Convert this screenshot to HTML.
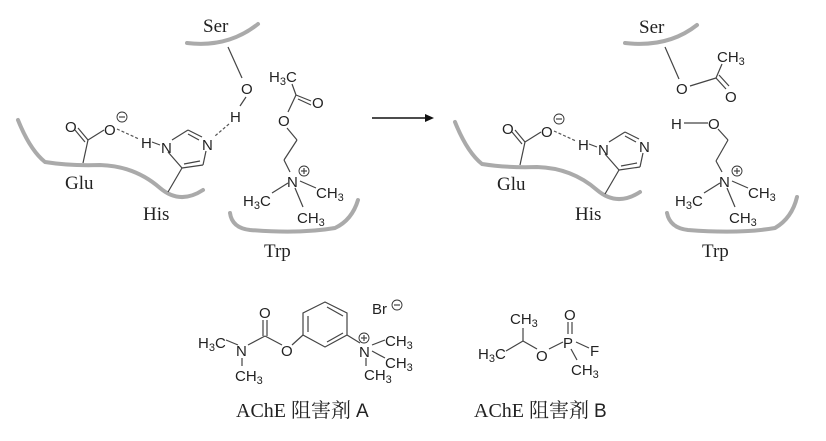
<!DOCTYPE html>
<html><head><meta charset="utf-8"><style>
body{margin:0;background:#fff}
svg{display:block}
.a{font-family:"Liberation Sans",sans-serif;font-size:15px;fill:#222}
.s{font-family:"Liberation Serif",serif;font-size:19px;fill:#222}
.j{font-family:"Liberation Serif","Noto Serif CJK SC",serif;font-size:20px;fill:#222}
.b{stroke:#444;stroke-width:1.2;fill:none}
.p{stroke:#aaa;stroke-width:4;fill:none;stroke-linecap:round}
.d{stroke:#555;stroke-width:1.2;stroke-dasharray:3,2;fill:none}
.c{fill:#fff;stroke:#333;stroke-width:0.9}
</style></head><body>
<svg width="826" height="441" viewBox="0 0 826 441" xmlns="http://www.w3.org/2000/svg">
<!-- LEFT PANEL -->
<text class="s" x="203" y="32">Ser</text>
<path class="p" d="M187,43 Q228,48 258,24"/>
<line class="b" x1="228" y1="47" x2="242" y2="78"/>
<text class="a" x="241" y="94">O</text>
<line class="b" x1="246" y1="97" x2="240" y2="106"/>
<text class="a" x="230" y="122">H</text>
<line class="d" x1="229" y1="124" x2="215" y2="136"/>
<path class="p" d="M18,120 Q30,150 45,162 Q70,166 100,165 Q135,166 160,188 Q180,205 203,190"/>
<g>
<line class="b" x1="83" y1="163" x2="88" y2="140"/>
<line class="b" x1="88" y1="140" x2="78" y2="128"/>
<line class="b" x1="85" y1="142" x2="75" y2="130"/>
<line class="b" x1="88" y1="140" x2="104" y2="130"/>
<text class="a" x="65" y="132">O</text>
<text class="a" x="104" y="135">O</text>
<circle class="c" cx="122" cy="117" r="5"/><line class="b" x1="119" y1="117" x2="125" y2="117"/>
<line class="d" x1="117" y1="129" x2="139" y2="139"/>
<text class="a" x="141" y="148">H</text>
<line class="b" x1="152" y1="142" x2="160" y2="145"/>
<text class="a" x="161" y="153">N</text>
<line class="b" x1="172" y1="140" x2="188" y2="130"/>
<line class="b" x1="188" y1="130" x2="202" y2="137"/>
<line class="b" x1="188" y1="134" x2="199" y2="140"/>
<text class="a" x="202" y="150">N</text>
<line class="b" x1="206" y1="151" x2="203" y2="165"/>
<line class="b" x1="203" y1="165" x2="182" y2="168"/>
<line class="b" x1="200" y1="161" x2="184" y2="164"/>
<line class="b" x1="182" y1="168" x2="168" y2="152"/>
<line class="b" x1="182" y1="168" x2="168" y2="192"/>
</g>
<text class="s" x="65" y="189">Glu</text>
<text class="s" x="143" y="220">His</text>
<text class="a" x="269" y="82">H<tspan font-size="11" dy="3">3</tspan><tspan dy="-3">C</tspan></text>
<line class="b" x1="292" y1="84" x2="296" y2="95"/>
<line class="b" x1="296" y1="95" x2="311" y2="101"/>
<line class="b" x1="298" y1="99" x2="311" y2="105"/>
<text class="a" x="312" y="108">O</text>
<line class="b" x1="296" y1="95" x2="288" y2="112"/>
<text class="a" x="278" y="126">O</text>
<line class="b" x1="287" y1="128" x2="297" y2="140"/>
<line class="b" x1="297" y1="140" x2="284" y2="160"/>
<line class="b" x1="284" y1="160" x2="290" y2="172"/>
<text class="a" x="287" y="187">N</text>
<circle class="c" cx="304" cy="171" r="5"/><line class="b" x1="301" y1="171" x2="307" y2="171"/><line class="b" x1="304" y1="168" x2="304" y2="174"/>
<line class="b" x1="300" y1="181" x2="316" y2="188"/>
<text class="a" x="316" y="198">CH<tspan font-size="11" dy="3">3</tspan></text>
<line class="b" x1="288" y1="183" x2="272" y2="193"/>
<text class="a" x="243" y="206">H<tspan font-size="11" dy="3">3</tspan><tspan dy="-3">C</tspan></text>
<line class="b" x1="295" y1="188" x2="303" y2="207"/>
<text class="a" x="297" y="223">CH<tspan font-size="11" dy="3">3</tspan></text>
<path class="p" d="M230,213 Q232,228 250,230 Q300,234 335,228 Q352,220 358,200"/>
<text class="s" x="264" y="257">Trp</text>
<line x1="372" y1="118" x2="426" y2="118" stroke="#111" stroke-width="1.4"/>
<polygon points="434,118 425,114 425,122" fill="#111"/>
<!-- RIGHT PANEL -->
<text class="s" x="639" y="33">Ser</text>
<path class="p" d="M625,43 Q668,48 697,25"/>
<line class="b" x1="665" y1="47" x2="679" y2="79"/>
<text class="a" x="676" y="94">O</text>
<line class="b" x1="690" y1="86" x2="716" y2="78"/>
<line class="b" x1="716" y1="78" x2="722" y2="64"/>
<text class="a" x="717" y="62">CH<tspan font-size="11" dy="3">3</tspan></text>
<line class="b" x1="716" y1="78" x2="726" y2="89"/>
<line class="b" x1="719" y1="75" x2="729" y2="86"/>
<text class="a" x="725" y="102">O</text>
<path class="p" d="M455,122 Q467,152 482,164 Q507,168 537,167 Q572,168 597,190 Q617,207 640,192"/>
<g transform="translate(437,2)">
<line class="b" x1="83" y1="163" x2="88" y2="140"/>
<line class="b" x1="88" y1="140" x2="78" y2="128"/>
<line class="b" x1="85" y1="142" x2="75" y2="130"/>
<line class="b" x1="88" y1="140" x2="104" y2="130"/>
<text class="a" x="65" y="132">O</text>
<text class="a" x="104" y="135">O</text>
<circle class="c" cx="122" cy="117" r="5"/><line class="b" x1="119" y1="117" x2="125" y2="117"/>
<line class="d" x1="117" y1="129" x2="139" y2="139"/>
<text class="a" x="141" y="148">H</text>
<line class="b" x1="152" y1="142" x2="160" y2="145"/>
<text class="a" x="161" y="153">N</text>
<line class="b" x1="172" y1="140" x2="188" y2="130"/>
<line class="b" x1="188" y1="130" x2="202" y2="137"/>
<line class="b" x1="188" y1="134" x2="199" y2="140"/>
<text class="a" x="202" y="150">N</text>
<line class="b" x1="206" y1="151" x2="203" y2="165"/>
<line class="b" x1="203" y1="165" x2="182" y2="168"/>
<line class="b" x1="200" y1="161" x2="184" y2="164"/>
<line class="b" x1="182" y1="168" x2="168" y2="152"/>
<line class="b" x1="182" y1="168" x2="168" y2="192"/>
</g>
<text class="s" x="497" y="190">Glu</text>
<text class="s" x="575" y="220">His</text>
<text class="a" x="671" y="129">H</text>
<line class="b" x1="684" y1="123" x2="708" y2="123"/>
<text class="a" x="708" y="129">O</text>
<line class="b" x1="718" y1="129" x2="728" y2="140"/>
<line class="b" x1="728" y1="140" x2="716" y2="161"/>
<line class="b" x1="716" y1="161" x2="722" y2="172"/>
<text class="a" x="719" y="187">N</text>
<circle class="c" cx="737" cy="171" r="5"/><line class="b" x1="734" y1="171" x2="740" y2="171"/><line class="b" x1="737" y1="168" x2="737" y2="174"/>
<line class="b" x1="732" y1="181" x2="748" y2="188"/>
<text class="a" x="748" y="198">CH<tspan font-size="11" dy="3">3</tspan></text>
<line class="b" x1="720" y1="183" x2="704" y2="193"/>
<text class="a" x="675" y="206">H<tspan font-size="11" dy="3">3</tspan><tspan dy="-3">C</tspan></text>
<line class="b" x1="727" y1="188" x2="735" y2="207"/>
<text class="a" x="729" y="223">CH<tspan font-size="11" dy="3">3</tspan></text>
<path class="p" d="M667,213 Q670,228 688,230 Q740,234 775,228 Q792,218 797,197"/>
<text class="s" x="702" y="257">Trp</text>
<!-- COMPOUND A -->
<text class="a" x="198" y="348">H<tspan font-size="11" dy="3">3</tspan><tspan dy="-3">C</tspan></text>
<line class="b" x1="226" y1="340" x2="238" y2="345"/>
<text class="a" x="236" y="356">N</text>
<line class="b" x1="242" y1="358" x2="242" y2="366"/>
<text class="a" x="235" y="381">CH<tspan font-size="11" dy="3">3</tspan></text>
<line class="b" x1="248" y1="345" x2="265" y2="336"/>
<line class="b" x1="263" y1="336" x2="263" y2="320"/>
<line class="b" x1="267" y1="336" x2="267" y2="320"/>
<text class="a" x="259" y="318">O</text>
<line class="b" x1="265" y1="336" x2="282" y2="345"/>
<text class="a" x="281" y="356">O</text>
<line class="b" x1="292" y1="345" x2="303" y2="335"/>
<polygon class="b" points="325,302 347,313 347,335 325,347 303,335 303,313" stroke="#777"/>
<line class="b" stroke="#777" x1="308" y1="316" x2="308" y2="332"/>
<line class="b" stroke="#777" x1="327" y1="307" x2="343" y2="316"/>
<line class="b" stroke="#777" x1="327" y1="342" x2="343" y2="333"/>
<line class="b" x1="347" y1="335" x2="360" y2="343"/>
<text class="a" x="359" y="357">N</text>
<circle class="c" cx="364" cy="338" r="5"/><line class="b" x1="361" y1="338" x2="367" y2="338"/><line class="b" x1="364" y1="335" x2="364" y2="341"/>
<line class="b" x1="372" y1="345" x2="385" y2="340"/>
<text class="a" x="385" y="346">CH<tspan font-size="11" dy="3">3</tspan></text>
<line class="b" x1="372" y1="351" x2="385" y2="358"/>
<text class="a" x="385" y="368">CH<tspan font-size="11" dy="3">3</tspan></text>
<line class="b" x1="366" y1="358" x2="366" y2="366"/>
<text class="a" x="364" y="380">CH<tspan font-size="11" dy="3">3</tspan></text>
<text class="a" x="372" y="314">Br</text>
<circle class="c" cx="397" cy="305" r="5"/><line class="b" x1="394" y1="305" x2="400" y2="305"/>
<text class="j" x="236" y="417">AChE 阻害剤 <tspan style="font-family:'Liberation Sans',sans-serif;font-size:19px">A</tspan></text>
<!-- COMPOUND B -->
<text class="a" x="510" y="324">CH<tspan font-size="11" dy="3">3</tspan></text>
<line class="b" x1="523" y1="328" x2="523" y2="341"/>
<text class="a" x="478" y="359">H<tspan font-size="11" dy="3">3</tspan><tspan dy="-3">C</tspan></text>
<line class="b" x1="506" y1="351" x2="523" y2="341"/>
<line class="b" x1="523" y1="341" x2="537" y2="349"/>
<text class="a" x="536" y="361">O</text>
<line class="b" x1="549" y1="349" x2="563" y2="342"/>
<text class="a" x="563" y="348">P</text>
<line class="b" x1="568" y1="334" x2="568" y2="322"/>
<line class="b" x1="572" y1="334" x2="572" y2="322"/>
<text class="a" x="564" y="320">O</text>
<line class="b" x1="576" y1="342" x2="589" y2="348"/>
<text class="a" x="590" y="356">F</text>
<line class="b" x1="571" y1="349" x2="577" y2="360"/>
<text class="a" x="571" y="375">CH<tspan font-size="11" dy="3">3</tspan></text>
<text class="j" x="474" y="417">AChE 阻害剤 <tspan style="font-family:'Liberation Sans',sans-serif;font-size:19px">B</tspan></text>
</svg>
</body></html>
